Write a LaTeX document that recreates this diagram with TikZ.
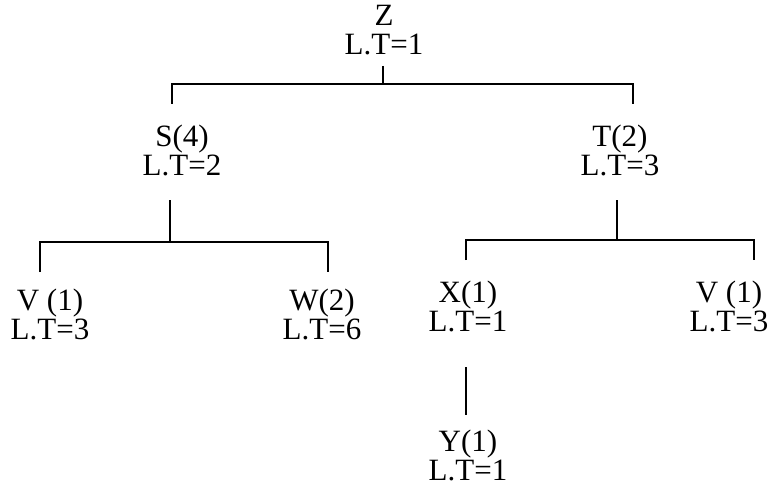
\documentclass[tikz,border=0pt]{standalone}
\usepackage{fontspec}
\setmainfont{Liberation Serif}
\usetikzlibrary{positioning}

\begin{document}
\begin{tikzpicture}[x=1pt, y=-1pt, line width=1.5pt,
  task/.style={align=center, inner sep=0pt, font=\fontsize{31}{29}\selectfont}]
\useasboundingbox (0,0) rectangle (778,497);

% root
\node[task] (Z) at (384,30) {Z\\L.T=1};

% level 1
\node[task] (S) at (182,150) {S(4)\\L.T=2};
\node[task] (T) at (620,150) {T(2)\\L.T=3};

% level 2
\node[task] (V1) at (50,314) {V (1)\\L.T=3};
\node[task] (W) at (322,314) {W(2)\\L.T=6};
\node[task] (X) at (468,306) {X(1)\\L.T=1};
\node[task] (V2) at (729,306) {V (1)\\L.T=3};

% level 3
\node[task] (Y) at (468,455) {Y(1)\\L.T=1};

% joints
\coordinate (Zs) at (383,66);
\coordinate (Zj) at (383,84);
\coordinate (Zl) at (172,104);
\coordinate (Zr) at (633,104);
\coordinate (Ss) at (170,200);
\coordinate (Sj) at (170,242);
\coordinate (Sl) at (40,272);
\coordinate (Sr) at (328,272);
\coordinate (Ts) at (617,200);
\coordinate (Tj) at (617,240);
\coordinate (Tl) at (466,260);
\coordinate (Tr) at (754,260);
\coordinate (Xs) at (466,367);
\coordinate (Ye) at (466,415);

% Z -> S, T
\draw (Zs) -- (Zj);
\draw (Zl) |- (Zj) -| (Zr);
% S -> V, W
\draw (Ss) -- (Sj);
\draw (Sl) |- (Sj) -| (Sr);
% T -> X, V
\draw (Ts) -- (Tj);
\draw (Tl) |- (Tj) -| (Tr);
% X -> Y
\draw (Xs) -- (Ye);
\end{tikzpicture}
\end{document}
